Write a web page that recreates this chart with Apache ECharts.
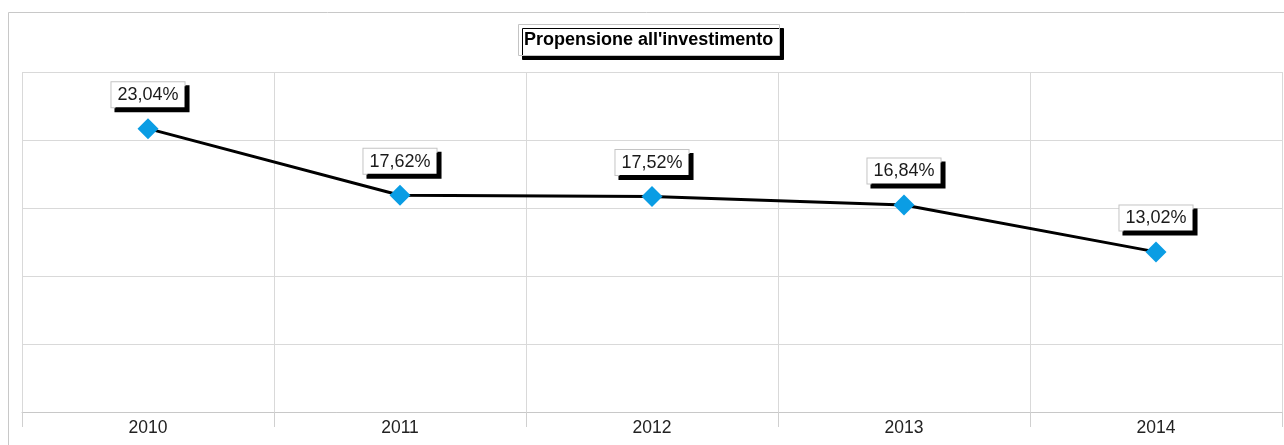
<!DOCTYPE html>
<html>
<head>
<meta charset="utf-8">
<script src="https://cdn.jsdelivr.net/npm/echarts@6/dist/echarts.min.js"></script>
<style>
html,body{margin:0;padding:0;background:#fff;}
#c{width:1284px;height:445px;}
</style>
</head>
<body>
<div id="c"></div>
<script>
var titleText = "Propensione all'investimento";
var categories = ['2010', '2011', '2012', '2013', '2014'];
var values = [23.04, 17.62, 17.52, 16.84, 13.02];
var yMax = 27.648;
var yInterval = 5.5296;

var chart = echarts.init(document.getElementById('c'), null, {renderer: 'canvas'});
var font = 'Arial, "Liberation Sans", sans-serif';
chart.setOption({
  animation: false,
  backgroundColor: '#ffffff',
  title: {
    text: titleText,
    left: 518,
    top: 24,
    padding: [6, 6, 6, 6],
    backgroundColor: '#ffffff',
    borderColor: '#c4c4c4',
    borderWidth: 1,
    shadowColor: '#000000',
    shadowBlur: 0,
    shadowOffsetX: 4,
    shadowOffsetY: 4,
    textStyle: {fontFamily: font, fontSize: 18, fontWeight: 'bold', color: '#000', lineHeight: 20}
  },
  graphic: [{
    type: 'rect',
    shape: {x: 8.5, y: 12.5, width: 1300, height: 460},
    style: {fill: 'none', stroke: '#c8c8c8', lineWidth: 1},
    silent: true,
    z: -1
  }],
  grid: {left: 22, right: 2, top: 72, bottom: 33},
  xAxis: {
    type: 'category',
    data: categories,
    boundaryGap: true,
    axisLine: {show: true, lineStyle: {color: '#c8c8c8', width: 1}},
    axisTick: {show: true, interval: 0, length: 15, lineStyle: {color: '#d0d0d0'}},
    splitLine: {show: true, interval: 0, lineStyle: {color: '#d9d9d9', width: 1}},
    axisLabel: {fontFamily: font, fontSize: 17.5, color: '#222', margin: 7}
  },
  yAxis: {
    type: 'value',
    min: 0,
    max: yMax,
    interval: yInterval,
    axisLine: {show: false},
    axisTick: {show: false},
    axisLabel: {show: false},
    splitLine: {show: true, lineStyle: {color: '#d9d9d9', width: 1}}
  },
  series: [{
    type: 'line',
    data: values,
    symbol: 'diamond',
    symbolSize: 21,
    itemStyle: {color: '#0a9de4'},
    lineStyle: {color: '#000000', width: 3},
    z: 3,
    label: {
      show: true,
      position: 'top',
      distance: 11,
      formatter: function (p) { return p.value.toFixed(2).replace('.', ',') + '%'; },
      fontFamily: font,
      fontSize: 18,
      lineHeight: 18,
      color: '#1a1a1a',
      backgroundColor: '#ffffff',
      borderColor: '#c4c4c4',
      borderWidth: 1,
      padding: [4, 6, 3, 6],
      shadowColor: '#000000',
      shadowBlur: 0,
      shadowOffsetX: 4,
      shadowOffsetY: 4
    }
  }]
});
</script>
</body>
</html>
